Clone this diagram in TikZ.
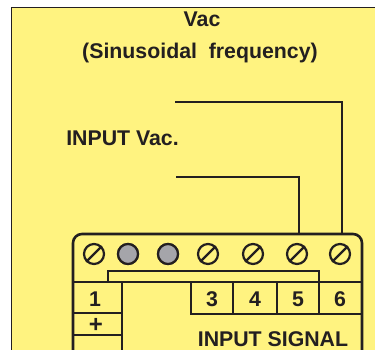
\documentclass[tikz,border=0pt]{standalone}
\usepackage{fontspec}
\setmainfont{Liberation Sans}
\definecolor{panel}{RGB}{255,243,128}
\definecolor{ink}{RGB}{35,31,32}
\definecolor{screwgray}{RGB}{165,165,170}
\tikzset{
  lbl/.style={font=\fontsize{21.3}{23}\selectfont\bfseries, text=ink, inner sep=0pt, anchor=base},
  screw/.style={circle, draw=ink, line width=2.2pt, minimum size=20pt, inner sep=0pt},
  wire/.style={draw=ink, line width=2.2pt},
  frame/.style={draw=ink, line width=2.6pt}
}
\begin{document}
\begin{tikzpicture}[x=1pt,y=-1pt]
\useasboundingbox (0,0) rectangle (375,349);
% fondo
\fill[panel] (11,7) rectangle (380,355);
\draw[ink, line width=1pt] (11,355) -- (11,7) -- (380,7);
% textos
\node[lbl] (vac) at (202,26.5) {Vac};
\node[lbl] (sin) at (200,58.5) {(Sinusoidal\ \ frequency)};
\node[lbl] (inp) at (122.5,145) {INPUT Vac.};
% bloque de bornes
\draw[frame, rounded corners=9pt] (73,355) -- (73,234) -- (362,234) -- (362,355);
\draw[frame] (73,282) -- (362,282);
\draw[frame] (108,282) -- (108,271) -- (319,271) -- (319,314);
\draw[frame] (122,282) -- (122,355);
\draw[frame] (73,313) -- (122,313);
\draw[frame] (73,335) -- (122,335);
\draw[frame] (191,282) -- (191,314) -- (362,314);
\draw[frame] (233,282) -- (233,314);
\draw[frame] (277,282) -- (277,314);
% tornillos
\foreach \x/\n in {94/1, 128/2, 168/3, 208/4, 253/5, 297/6, 340/7} {
  \node[screw] (s\n) at (\x,254) {};
}
\foreach \n in {2,3} {
  \node[screw, fill=screwgray] at (s\n) {};
}
\foreach \n in {1,4,5,6,7} {
  \draw[ink, line width=2.2pt] (s\n.south west) -- (s\n.north east);
}
% cables de entrada
\coordinate (w1) at (175,102);
\coordinate (w2) at (176,177);
\draw[wire] (w1) -- (342,102) -- (342,234);
\draw[wire] (w2) -- (299,177) -- (299,234);
% numeros
\node[lbl] (n1) at (95,306) {1};
\node[lbl, font=\fontsize{24}{26}\selectfont\bfseries] (np) at (96,332) {+};
\node[lbl] (n3) at (212,306) {3};
\node[lbl] (n4) at (255,306) {4};
\node[lbl] (n5) at (298,306) {5};
\node[lbl] (n6) at (340,306) {6};
\node[lbl] (sig) at (273,346) {INPUT SIGNAL};
\end{tikzpicture}
\end{document}
